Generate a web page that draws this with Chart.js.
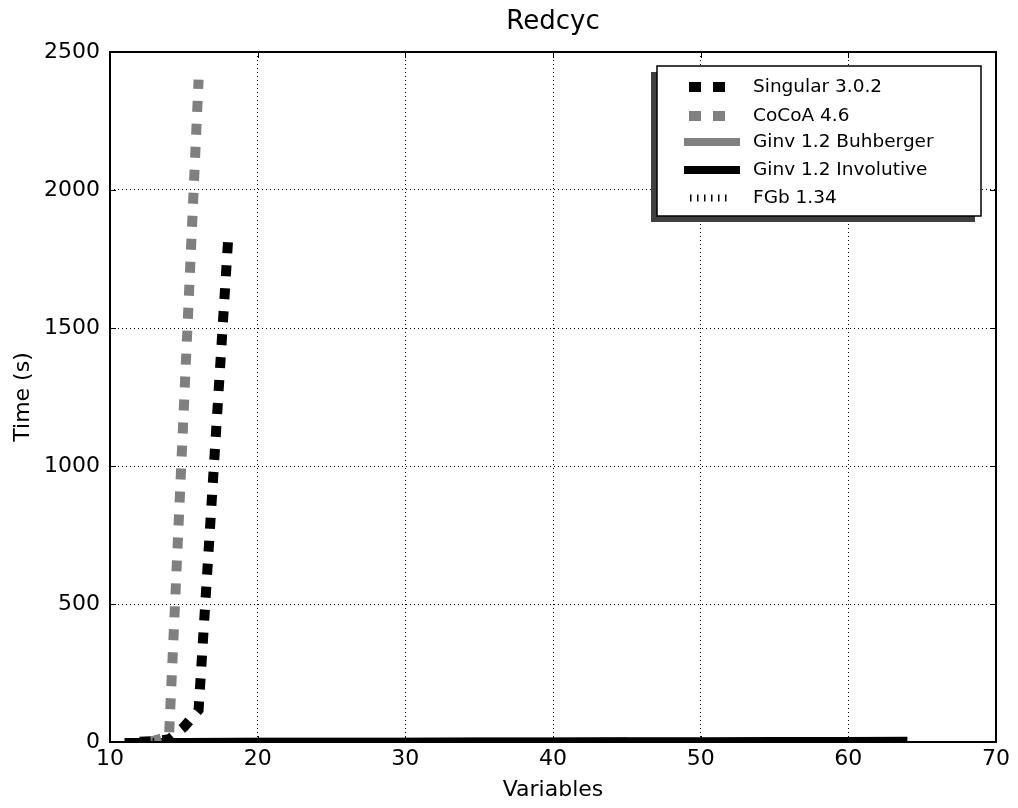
<!DOCTYPE html>
<html>
<head>
<meta charset="utf-8">
<script src="https://cdn.jsdelivr.net/npm/chart.js@4"></script>
<style>
  html, body { margin: 0; padding: 0; background: #fff; }
  #wrap { width: 1018px; height: 808px; }
</style>
</head>
<body>
<div id="wrap"><canvas id="c" width="1018" height="808"></canvas></div>
<script>
// values
const singularX = [12, 13, 14, 15, 16, 17, 18];
const singularT = [1, 3, 10, 54, 116, 970, 1820];
const cocoaX = [12, 13, 14, 15, 16];
const cocoaT = [1, 5, 22, 1210, 2400];
const buhbergerX = [11, 15, 20, 25, 30, 35, 40, 45];
const buhbergerT = [0.1, 0.3, 0.6, 0.9, 1.2, 1.6, 2, 2.5];
const involutiveX = [11, 15, 20, 25, 30, 35, 40, 45, 50, 55, 60, 64];
const involutiveT = [0.1, 0.3, 0.6, 0.9, 1.2, 1.6, 2, 2.5, 3, 3.5, 4, 4.5];
const fgbX = [11, 12, 13];
const fgbT = [0.1, 0.5, 2];
const xTicks = [10, 20, 30, 40, 50, 60, 70];
const yTicks = [0, 500, 1000, 1500, 2000, 2500];

const FONT = 'DejaVu Sans';
const GRAY = '#808080';

function pts(xs, ys) {
    return xs.map((x, i) => ({ x: x, y: ys[i] }));
}

const legendItems = [
    { label: 'Singular 3.0.2', color: '#000', width: 10, dash: [12, 12], from: 689, to: 727 },
    { label: 'CoCoA 4.6', color: GRAY, width: 10, dash: [12, 12], from: 689, to: 727 },
    { label: 'Ginv 1.2 Buhberger', color: GRAY, width: 8, dash: [], from: 684, to: 740 },
    { label: 'Ginv 1.2 Involutive', color: '#000', width: 8, dash: [], from: 684, to: 740 },
    { label: 'FGb 1.34', color: '#000', width: 7, dash: [1.5, 5.5], from: 690, to: 730 }
];
const legendRowsY = [87, 116, 142, 170, 198];

const decorPlugin = {
    id: 'decor',
    afterDraw(chart) {
        const ctx = chart.ctx;
        const a = chart.chartArea;
        const xs = chart.scales.x, ys = chart.scales.y;
        ctx.save();
        // inward ticks
        ctx.strokeStyle = '#000';
        ctx.lineWidth = 1;
        ctx.setLineDash([]);
        xTicks.forEach(v => {
            const px = Math.round(xs.getPixelForValue(v)) + 0.5;
            ctx.beginPath();
            ctx.moveTo(px, a.bottom); ctx.lineTo(px, a.bottom - 6);
            ctx.moveTo(px, a.top); ctx.lineTo(px, a.top + 6);
            ctx.stroke();
        });
        yTicks.forEach(v => {
            const py = Math.round(ys.getPixelForValue(v)) + 0.5;
            ctx.beginPath();
            ctx.moveTo(a.left, py); ctx.lineTo(a.left + 6, py);
            ctx.moveTo(a.right, py); ctx.lineTo(a.right - 6, py);
            ctx.stroke();
        });
        // frame
        ctx.lineWidth = 2;
        ctx.strokeRect(a.left, a.top, a.right - a.left, a.bottom - a.top);
        // title
        ctx.fillStyle = '#000';
        ctx.font = '26px "' + FONT + '"';
        ctx.textAlign = 'center';
        ctx.textBaseline = 'middle';
        ctx.fillText('Redcyc', (a.left + a.right) / 2, 22);
        // legend box with shadow
        ctx.fillStyle = '#404040';
        ctx.fillRect(651, 72, 324, 150);
        ctx.fillStyle = '#fff';
        ctx.fillRect(657, 66, 324, 150);
        ctx.strokeStyle = '#000';
        ctx.lineWidth = 1.5;
        ctx.strokeRect(657, 66, 324, 150);
        ctx.font = '18.5px "' + FONT + '"';
        ctx.textAlign = 'left';
        legendItems.forEach((it, i) => {
            const y = legendRowsY[i];
            ctx.strokeStyle = it.color;
            ctx.lineWidth = it.width;
            ctx.setLineDash(it.dash);
            ctx.lineCap = 'butt';
            ctx.beginPath();
            ctx.moveTo(it.from, y); ctx.lineTo(it.to, y);
            ctx.stroke();
            ctx.setLineDash([]);
            ctx.fillStyle = '#000';
            ctx.fillText(it.label, 753, y);
        });
        ctx.restore();
    }
};

new Chart(document.getElementById('c'), {
    type: 'line',
    data: {
        datasets: [
            { label: 'Singular 3.0.2', data: pts(singularX, singularT), borderColor: '#000',
              borderWidth: 10, borderDash: [11, 12], order: 2 },
            { label: 'CoCoA 4.6', data: pts(cocoaX, cocoaT), borderColor: GRAY,
              borderWidth: 10, borderDash: [11, 12], borderDashOffset: 12, order: 3 },
            { label: 'Ginv 1.2 Buhberger', data: pts(buhbergerX, buhbergerT), borderColor: GRAY,
              borderWidth: 8, order: 5 },
            { label: 'Ginv 1.2 Involutive', data: pts(involutiveX, involutiveT), borderColor: '#000',
              borderWidth: 8, order: 4 },
            { label: 'FGb 1.34', data: pts(fgbX, fgbT), borderColor: '#000',
              borderWidth: 7, borderDash: [1.5, 5.5], order: 1 }
        ]
    },
    options: {
        responsive: false,
        animation: false,
        layout: { padding: { top: 52, right: 22, left: 0, bottom: 0 } },
        elements: {
            point: { radius: 0 },
            line: { tension: 0, fill: false, borderCapStyle: 'butt' }
        },
        plugins: {
            legend: { display: false },
            title: { display: false },
            tooltip: { enabled: false }
        },
        scales: {
            x: {
                type: 'linear',
                min: 10, max: 70,
                afterFit(s) { s.height = 66; },
                afterBuildTicks(s) { s.ticks = xTicks.map(v => ({ value: v })); },
                grid: { color: '#000', lineWidth: 1, drawTicks: false },
                border: { display: false, dash: [1, 3] },
                ticks: { padding: 4, color: '#000', font: { family: FONT, size: 22 },
                         callback: v => String(v) },
                title: { display: true, text: 'Variables', color: '#000',
                         font: { family: FONT, size: 22 }, padding: { top: 0, bottom: 5 } }
            },
            y: {
                type: 'linear',
                min: 0, max: 2500,
                afterFit(s) { s.width = 110; },
                afterBuildTicks(s) { s.ticks = yTicks.map(v => ({ value: v })); },
                grid: { color: '#000', lineWidth: 1, drawTicks: false },
                border: { display: false, dash: [1, 3] },
                ticks: { padding: 10, color: '#000', font: { family: FONT, size: 22 },
                         callback: v => String(v) },
                title: { display: true, text: 'Time (s)', color: '#000',
                         font: { family: FONT, size: 22 }, padding: { top: 10, bottom: 0 } }
            }
        }
    },
    plugins: [decorPlugin]
});
</script>
</body>
</html>
